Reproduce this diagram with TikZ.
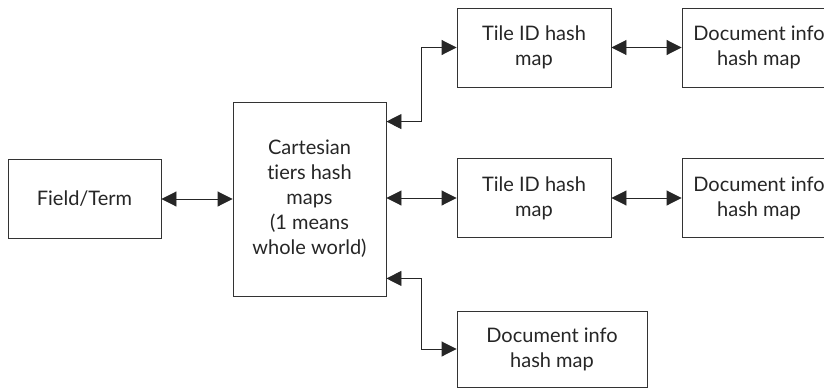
\documentclass[tikz,border=0pt]{standalone}
\usepackage{fontspec}
\setmainfont{Lato}[Ligatures=NoCommon]
\usetikzlibrary{arrows.meta,calc}
\begin{document}
\begin{tikzpicture}[x=1pt,y=-1pt,
  box/.style={draw=black!80,line width=0.9pt,rectangle,inner sep=0pt,align=center,
    font=\fontsize{20}{25}\selectfont,text=black!85},
  tip/.tip={Triangle[length=15pt,width=15pt]},
  conn/.style={draw=black!85,line width=0.9pt,tip-tip}]
\clip (0,0) rectangle (824,388);
\useasboundingbox (0,0) rectangle (824,388);
\fill[white] (0,0) rectangle (824,388);
\node[box,minimum width=153pt,minimum height=79pt] (field) at (84.5,199) {Field/Term};
\node[box,minimum width=153pt,minimum height=194pt] (cart) at (309.5,199) {Cartesian\\tiers hash\\maps\\(1 means\\whole world)};
\node[box,minimum width=154pt,minimum height=79pt] (tile1) at (534,47.5) {Tile ID hash\\map};
\node[box,minimum width=154pt,minimum height=79pt] (doc1) at (759,47.5) {Document info\\hash map};
\node[box,minimum width=154pt,minimum height=79pt] (tile2) at (534,198) {Tile ID hash\\map};
\node[box,minimum width=154pt,minimum height=79pt] (doc2) at (759,198) {Document info\\hash map};
\node[box,minimum width=190pt,minimum height=76pt] (doc3) at (552,349) {Document info\\hash map};
\coordinate (ctop) at ($(cart.north east)+(0,20)$);
\coordinate (cbot) at ($(cart.south east)+(0,-18)$);
\draw[conn] (field.east) -- (field.east -| cart.west);
\draw[conn] (cart.east |- tile2.west) -- (tile2.west);
\draw[conn] (tile1.east) -- (doc1.west);
\draw[conn] (tile2.east) -- (doc2.west);
\draw[conn] (ctop) -| ($(tile1.west)+(-35,0)$) -- (tile1.west);
\draw[conn] (cbot) -| ($(doc3.west)+(-35,0)$) -- (doc3.west);
\end{tikzpicture}
\end{document}
